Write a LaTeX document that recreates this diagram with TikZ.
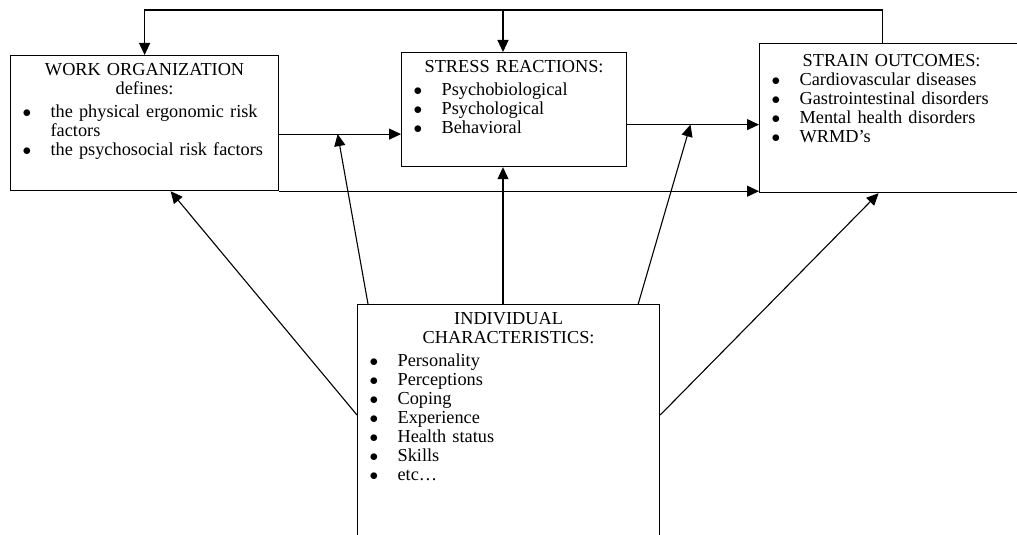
\documentclass[tikz,border=0pt]{standalone}
\usepackage{fontspec}
\setmainfont{Liberation Serif}
\usetikzlibrary{arrows.meta, positioning}

\newcommand{\bitem}[1]{\par\hangindent=28pt\hangafter=1\noindent\makebox[28pt][l]{$\bullet$}#1}

\begin{document}
\begin{tikzpicture}[
    x=1pt, y=-1pt,
    panel/.style={rectangle, draw, line width=1.2pt, anchor=north west, inner xsep=12pt, inner ysep=6pt, text height=14pt, align=left, font=\fontsize{18.3}{19}\selectfont},
    flow/.style={-{Triangle[length=12pt, width=11pt]}, line width=1.1pt},
  ]
    \useasboundingbox (0,0) rectangle (1017,535);
    \clip (0,0) rectangle (1017,535);

    % Work organization
    \node[panel, text width=244pt, text depth=109pt] (work) at (10,55) {%
      {\centering WORK ORGANIZATION\\ defines:\par}\vspace{4pt}
      \bitem{the physical ergonomic risk\newline factors}
      \bitem{\mbox{the psychosocial risk factors}}};

    % Stress reactions
    \node[panel, text width=201pt, text depth=88pt] (stress) at (401,52) {%
      {\centering STRESS REACTIONS:\par}\vspace{4pt}
      \bitem{Psychobiological}
      \bitem{Psychological}
      \bitem{Behavioral}};

    % Strain outcomes
    \node[panel, text width=240pt, text height=17pt, text depth=120pt] (strain) at (759,43) {%
      {\centering STRAIN OUTCOMES:\par}
      \bitem{Cardiovascular diseases}
      \bitem{Gastrointestinal disorders}
      \bitem{Mental health disorders}
      \bitem{WRMD’s}};

    % Individual characteristics
    \node[panel, text width=278pt, text depth=240pt] (individual) at (357,304) {%
      {\centering INDIVIDUAL\\ CHARACTERISTICS:\par}\vspace{4pt}
      \bitem{Personality}
      \bitem{Perceptions}
      \bitem{Coping}
      \bitem{Experience}
      \bitem{Health status}
      \bitem{Skills}
      \bitem{etc…}};

    % Feedback loop
    \coordinate (loop) at (503,10);
    \draw[flow] ([xshift=-9pt]strain.north) |- (loop) -| (work.north);
    \draw[flow] (loop) -- (loop |- stress.north);

    % Main path
    \draw[flow] ([yshift=-11pt]work.east) -- coordinate[pos=0.48] (m1) ([yshift=-11pt]work.east -| stress.west);
    \draw[flow] ([yshift=-15pt]stress.east) -- coordinate[pos=0.48] (m2) ([yshift=-15pt]stress.east -| strain.west);
    \draw[flow] (work.south east) -- (work.south east -| strain.west);

    % Individual characteristics as moderators
    \draw[flow] ([yshift=-111pt]individual.north west) -- ([xshift=26pt]work.south);
    \draw[flow] ([xshift=11pt]individual.north west) -- (m1);
    \draw[flow] (individual.north -| loop) -- (stress.south -| loop);
    \draw[flow] ([xshift=-22pt]individual.north east) -- (m2);
    \draw[flow] ([yshift=-111pt]individual.north east) -- ([xshift=-13pt]strain.south);

  \end{tikzpicture}
\end{document}
